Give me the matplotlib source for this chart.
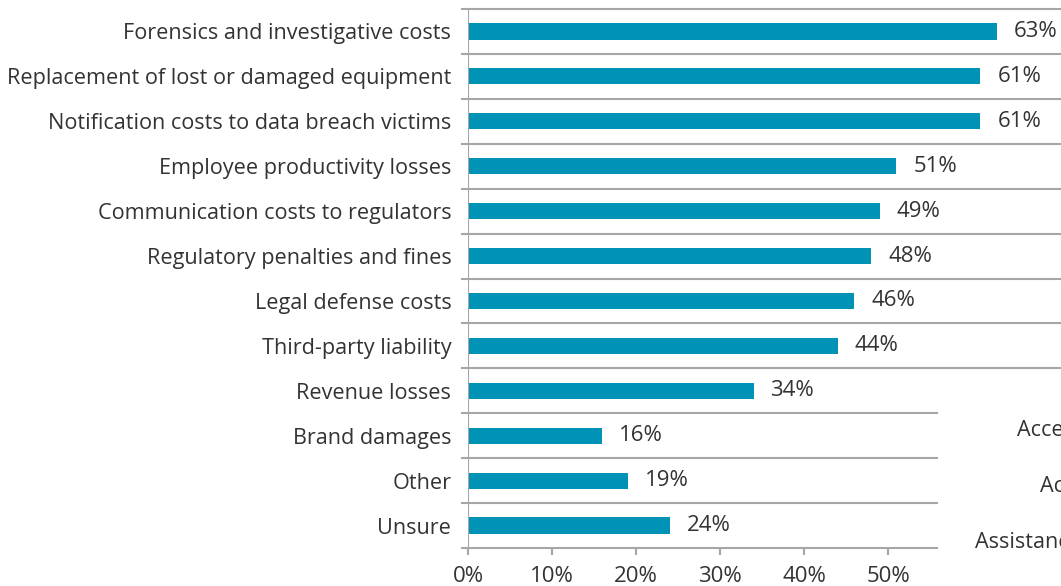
import matplotlib.pyplot as plt
import numpy as np

plt.rcParams['font.family'] = ['Open Sans', 'DejaVu Sans']

# podatki
kategorije = ["Forensics and investigative costs",
              "Replacement of lost or damaged equipment",
              "Notification costs to data breach victims",
              "Employee productivity losses",
              "Communication costs to regulators",
              "Regulatory penalties and fines",
              "Legal defense costs",
              "Third-party liability",
              "Revenue losses",
              "Brand damages",
              "Other",
              "Unsure"]
vrednosti = [63, 61, 61, 51, 49, 48, 46, 44, 34, 16, 19, 24]
oznake_x = ["0%", "10%", "20%", "30%", "40%", "50%"]
tick_x = [0, 10, 20, 30, 40, 50]
# delno vidno besedilo sosednjega grafa (v izvirniku odrezano na robu)
desno_besedilo = ["Acce", "Ac", "Assistanc"]

barva = "#0093b5"
siva = "#a6a6a6"
tekst = "#333333"
fs = 15.6
fs_num = 16

fig = plt.figure(figsize=(10.61, 5.86), dpi=100)
ax = fig.add_axes([468 / 1061, 38 / 586, 1 - 468 / 1061, 539 / 586])

n = len(kategorije)
y = np.arange(n)
ax.barh(y, vrednosti, height=0.36, color=barva, zorder=3)
ax.set_ylim(n - 0.5, -0.5)
xmax = (1061 - 468) / 8.4
ax.set_xlim(0, xmax)

# vrednosti ob stolpcih
for i, v in enumerate(vrednosti):
    ax.annotate(f"{v}%", (v, i), xytext=(12.2, 0), textcoords="offset points",
                va="center", ha="left", fontsize=fs_num, color=tekst)

# vodoravne črte med kategorijami
konec_spodaj = (937 - 468) / 8.4
for k in range(n + 1):
    yy = k - 0.5
    desno = xmax if k <= 8 else konec_spodaj
    ax.plot([-0.7, desno], [yy, yy], color=siva, lw=1.5, clip_on=False, zorder=2)

ax.axvline(0, color=siva, lw=1.5, zorder=4)
for s in ax.spines.values():
    s.set_visible(False)

ax.set_yticks(y)
ax.set_yticklabels(kategorije, fontsize=fs, color=tekst)
ax.tick_params(axis="y", length=0, pad=12)
ax.set_xticks(tick_x)
ax.set_xticklabels(oznake_x, fontsize=fs_num, color=tekst)
ax.tick_params(axis="x", length=5, width=1.5, color=siva, pad=8)

# odrezano besedilo na desni
for txt, (xp, yp) in zip(desno_besedilo, [(1017, 430), (1040, 487), (975, 543)]):
    fig.text(xp / 1061, 1 - yp / 586, txt, fontsize=fs, color=tekst, va="center", ha="left")

fig.savefig("out.png", dpi=100)
